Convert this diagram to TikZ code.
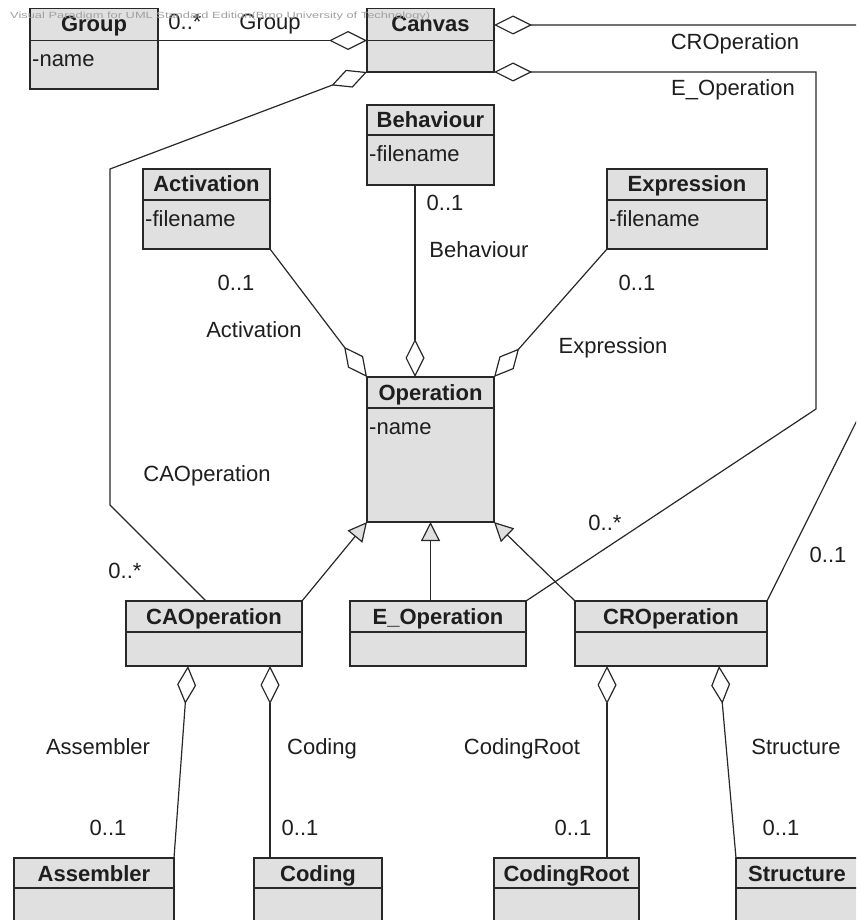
\documentclass[tikz,border=0pt]{standalone}
\usepackage{fontspec}
\setmainfont{Liberation Sans}
\usepackage{graphicx}
\usetikzlibrary{arrows.meta,calc}
\definecolor{boxfill}{RGB}{224,224,224}
\definecolor{edgecol}{RGB}{40,40,40}
\definecolor{txtcol}{RGB}{30,30,30}
\definecolor{wmark}{RGB}{160,160,160}
\tikzset{
 classbox/.style={draw=edgecol, fill=boxfill, line width=1.5pt, inner sep=0pt, outer sep=0pt, anchor=north west, rectangle},
 sepline/.style={draw=edgecol, line width=1.5pt},
 titletext/.style={font=\fontsize{22}{24}\selectfont\bfseries, text=txtcol, inner sep=0pt, anchor=base},
 attrtext/.style={font=\fontsize{22}{24}\selectfont, text=txtcol, inner sep=0pt, anchor=base west},
 lbl/.style={font=\fontsize{22}{24}\selectfont, text=txtcol, inner sep=0pt, anchor=base},
 conn/.style={draw=edgecol, line width=1.2pt, line join=miter},
 agg/.style={conn, {Diamond[fill=white,length=38pt,width=19pt]}-},
 aggend/.style={conn, -{Diamond[fill=white,length=38pt,width=19pt]}},
 gen/.style={conn, -{Triangle[fill=boxfill,length=19pt,width=19pt]}},
}
% #1 name, #2 x1, #3 y1, #4 x2, #5 y2, #6 header bottom, #7 title, #8 attribute
\newcommand\umlclass[8]{%
 \node[classbox, minimum width={#4pt-#2pt}, minimum height={#5pt-#3pt}] (#1) at (#2,#3) {};
 \draw[sepline] ($(#1.north west)+(0,#6-#3)$) -- ($(#1.north east)+(0,#6-#3)$);
 \node[titletext] (#1-t) at ($(#1.north)+(0,23)$) {#7};
 \node[attrtext] (#1-a) at ($(#1.north west)+(2,#6-#3+26.5)$) {#8};
}
\begin{document}
\begin{tikzpicture}[x=1pt,y=-1pt]
\fill[white] (0,0) rectangle (856,920);
\useasboundingbox (0,0) rectangle (856,920);
\clip (0,0) rectangle (856,920);

% classes
\umlclass{Group}{30}{8.5}{158}{89}{40.5}{Group}{-name}
\umlclass{Canvas}{367}{8.5}{494}{72}{40.5}{Canvas}{}
\umlclass{Behaviour}{367}{105}{494}{185}{135}{Behaviour}{-filename}
\umlclass{Activation}{143}{169}{270}{249}{200}{Activation}{-filename}
\umlclass{Expression}{607}{169}{767}{249}{200}{Expression}{-filename}
\umlclass{Operation}{367}{377}{494}{522}{408}{Operation}{-name}
\umlclass{CAOp}{126}{601}{302}{666}{632}{CAOperation}{}
\umlclass{EOp}{350}{601}{526}{666}{632}{E\_Operation}{}
\umlclass{CROp}{575}{601}{767}{666}{632}{CROperation}{}
\umlclass{Assembler}{14}{858}{174}{940}{888}{Assembler}{}
\umlclass{Coding}{254}{858}{382}{940}{888}{Coding}{}
\umlclass{CodingRoot}{494}{858}{639}{940}{888}{CodingRoot}{}
\umlclass{Structure}{736}{858}{858}{940}{888}{Structure}{}

% connectors
\draw[aggend] ($(Group.north east)+(0,32)$) -- ($(Canvas.north west)+(0,32)$);

\coordinate (caA) at (110,169);
\coordinate (caB) at (110,505);
\draw[agg] (Canvas.south west) -- (caA) -- (caB) -- ($(CAOp.north west)+(80,0)$);

\coordinate (crA) at (900,25);
\coordinate (crB) at (900,334);
\draw[agg] ($(Canvas.north east)+(0,16.5)$) -- (crA) -- (crB) -- (CROp.north east);

\coordinate (eA) at (816,72);
\coordinate (eB) at (816,409);
\draw[agg] (Canvas.south east) -- (eA) -- (eB) -- (EOp.north east);

\draw[aggend] (Activation.south east) -- (Operation.north west);
\draw[aggend] ($(Behaviour.south west)+(48,0)$) -- ($(Operation.north west)+(48,0)$);
\draw[aggend] (Expression.south west) -- (Operation.north east);

\draw[gen] (CAOp.north east) -- (Operation.south west);
\draw[gen] ($(EOp.north west)+(80.5,0)$) -- (Operation.south);
\draw[gen] (CROp.north west) -- (Operation.south east);

\draw[agg] ($(CAOp.south west)+(62,0)$) -- (Assembler.north east);
\draw[agg] ($(CAOp.south west)+(144,0)$) -- ($(Coding.north west)+(16,0)$);
\draw[agg] ($(CROp.south west)+(32,0)$) -- ($(CodingRoot.north west)+(113,0)$);
\draw[agg] ($(CROp.south west)+(144,0)$) -- (Structure.north west);

% labels
\node[lbl] (l1) at (185,30) {0..*};
\node[lbl] (l2) at (270,30) {Group};
\node[lbl] (l3) at (735,50) {CROperation};
\node[lbl] (l4) at (733,96) {E\_Operation};
\node[lbl] (l5) at (236,290) {0..1};
\node[lbl] (l6) at (254,337) {Activation};
\node[lbl] (l7) at (445,210) {0..1};
\node[lbl] (l8) at (479,257) {Behaviour};
\node[lbl] (l9) at (637,290) {0..1};
\node[lbl] (l10) at (613,353) {Expression};
\node[lbl] (l11) at (207,481) {CAOperation};
\node[lbl] (l12) at (125,578) {0..*};
\node[lbl] (l13) at (605,530) {0..*};
\node[lbl] (l14) at (828,562) {0..1};
\node[lbl] (l15) at (98,754) {Assembler};
\node[lbl] (l16) at (108,835) {0..1};
\node[lbl] (l17) at (322,754) {Coding};
\node[lbl] (l18) at (300,835) {0..1};
\node[lbl] (l19) at (522,754) {CodingRoot};
\node[lbl] (l20) at (573,835) {0..1};
\node[lbl] (l21) at (796,754) {Structure};
\node[lbl] (l22) at (781,835) {0..1};

% watermark
\node[anchor=base west, inner sep=0pt, text=wmark] (wm) at (10,19) {\resizebox{420pt}{6.5pt}{\fontsize{9}{9}\selectfont Visual Paradigm for UML Standard Edition(Brno University of Technology)}};
\end{tikzpicture}
\end{document}
